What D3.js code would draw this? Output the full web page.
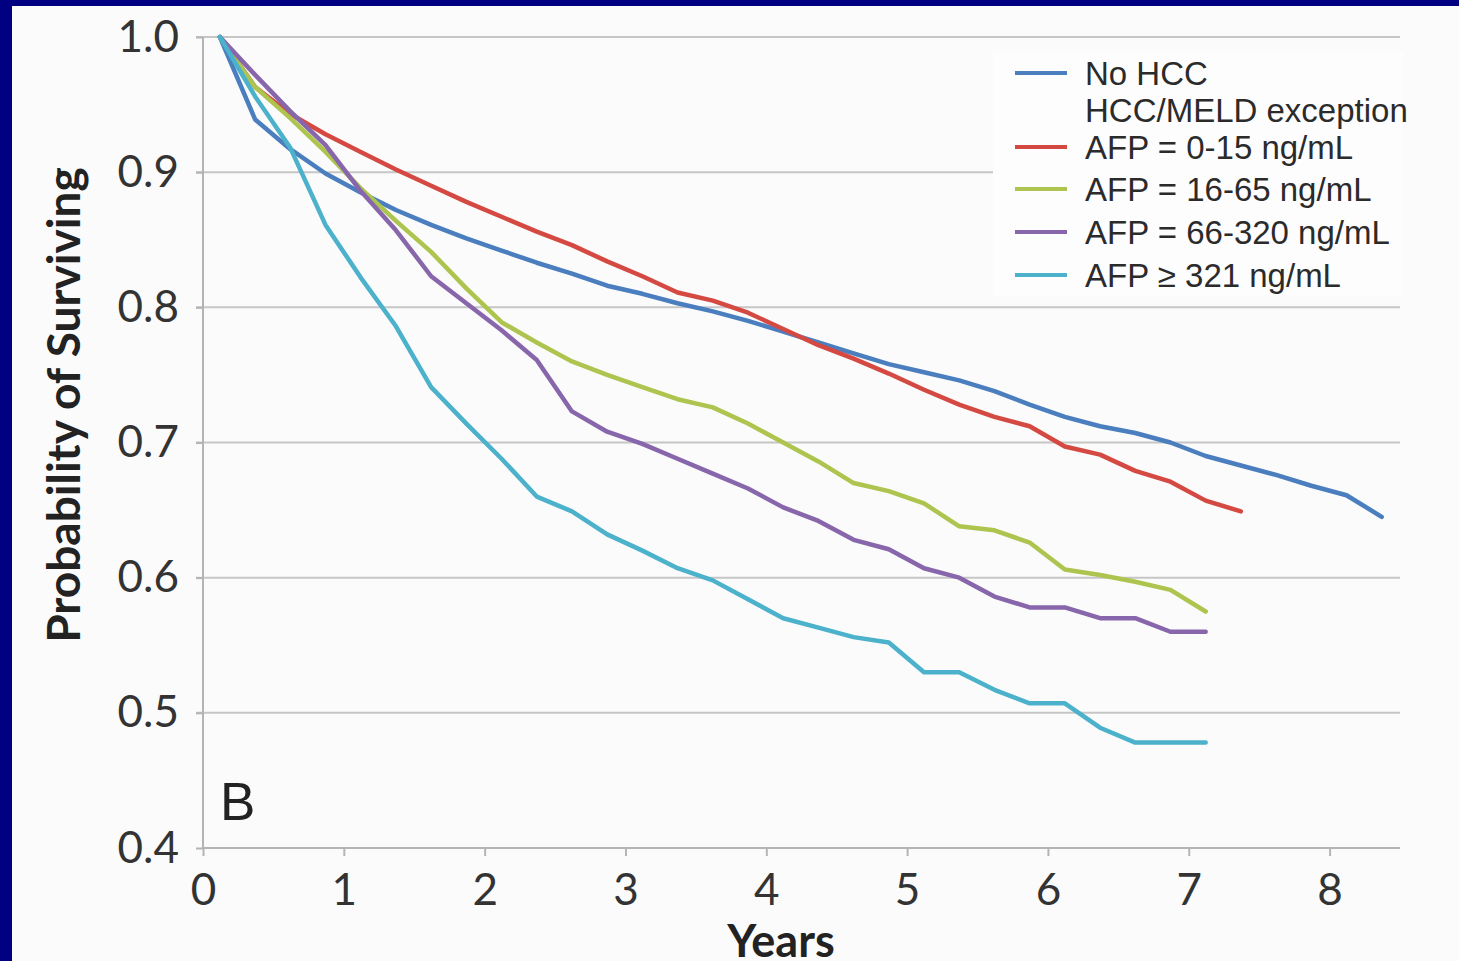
<!DOCTYPE html>
<html>
<head>
<meta charset="utf-8">
<script src="https://cdn.jsdelivr.net/npm/d3@7"></script>
<style>
  body { margin: 0; background: #000080; }
  svg { display: block; }
</style>
</head>
<body>
<script>
let w = 1459;
let h = 961;

// time points (years) shared by all curves
let years = [0.12, 0.37, 0.62, 0.87, 1.12, 1.37, 1.62, 1.87, 2.12, 2.37,
             2.62, 2.87, 3.12, 3.37, 3.62, 3.87, 4.12, 4.37, 4.62, 4.87,
             5.12, 5.37, 5.62, 5.87, 6.12, 6.37, 6.62, 6.87, 7.12, 7.37,
             7.62, 7.87, 8.12, 8.37];

let noHcc = [1.0, 0.939, 0.917, 0.899, 0.885, 0.872, 0.861, 0.851, 0.842, 0.833,
             0.825, 0.816, 0.810, 0.803, 0.797, 0.790, 0.782, 0.774, 0.766, 0.758,
             0.752, 0.746, 0.738, 0.728, 0.719, 0.712, 0.707, 0.700, 0.690, 0.683,
             0.676, 0.668, 0.661, 0.645];
let afp0to15 = [1.0, 0.963, 0.943, 0.928, 0.915, 0.902, 0.890, 0.878, 0.867, 0.856,
                0.846, 0.834, 0.823, 0.811, 0.805, 0.796, 0.784, 0.772, 0.762, 0.751,
                0.739, 0.728, 0.719, 0.712, 0.697, 0.691, 0.679, 0.671, 0.657, 0.649];
let afp16to65 = [1.0, 0.963, 0.940, 0.915, 0.888, 0.864, 0.841, 0.814, 0.789, 0.774,
                 0.760, 0.750, 0.741, 0.732, 0.726, 0.714, 0.700, 0.686, 0.670, 0.664,
                 0.655, 0.638, 0.635, 0.626, 0.606, 0.602, 0.597, 0.591, 0.575];
let afp66to320 = [1.0, 0.972, 0.945, 0.920, 0.886, 0.857, 0.823, 0.803, 0.783, 0.761,
                  0.723, 0.708, 0.699, 0.688, 0.677, 0.666, 0.652, 0.642, 0.628, 0.621,
                  0.607, 0.600, 0.586, 0.578, 0.578, 0.570, 0.570, 0.560, 0.560];
let afp321 = [1.0, 0.956, 0.918, 0.861, 0.822, 0.786, 0.741, 0.714, 0.688, 0.660,
              0.649, 0.632, 0.620, 0.607, 0.598, 0.584, 0.570, 0.563, 0.556, 0.552,
              0.530, 0.530, 0.517, 0.507, 0.507, 0.489, 0.478, 0.478, 0.478];

let seriesNames = ['No HCC', 'AFP = 0-15 ng/mL', 'AFP = 16-65 ng/mL',
                   'AFP = 66-320 ng/mL', 'AFP \u2265 321 ng/mL'];
let seriesValues = [noHcc, afp0to15, afp16to65, afp66to320, afp321];
let seriesColors = ['#4a7ebe', '#d44a43', '#adc44f', '#8866ab', '#4cb1cb'];

let yTicks = [0.4, 0.5, 0.6, 0.7, 0.8, 0.9, 1.0];
let xTicks = [0, 1, 2, 3, 4, 5, 6, 7, 8];

let plot = { left: 203, right: 1400, top: 37, bottom: 848 };

let xScale = d3.scaleLinear().domain([0, 8.5]).range([plot.left, plot.right]);
let yScale = d3.scaleLinear().domain([0.4, 1.0]).range([plot.bottom, plot.top]);

let svg = d3.select('body')
  .append('svg')
  .attr('width', w)
  .attr('height', h);

// light panel over the navy slide background
svg.append('rect')
  .attr('x', 12)
  .attr('y', 6)
  .attr('width', w - 12)
  .attr('height', h - 6)
  .attr('fill', '#fbfbfb');

// gridlines
svg.append('g')
  .selectAll('line')
  .data(yTicks.filter((d) => { return d > 0.4; }))
  .enter()
  .append('line')
  .attr('x1', plot.left - 7)
  .attr('x2', plot.right)
  .attr('y1', (d) => { return yScale(d); })
  .attr('y2', (d) => { return yScale(d); })
  .attr('stroke', '#c6c6c6')
  .attr('stroke-width', 2);

// y axis
let yAxis = svg.append('g')
  .attr('transform', `translate(${plot.left},0)`)
  .call(d3.axisLeft(yScale).tickValues(yTicks).tickFormat(d3.format('.1f')).tickSize(7).tickPadding(17));

// x axis
let xAxis = svg.append('g')
  .attr('transform', `translate(0,${plot.bottom})`)
  .call(d3.axisBottom(xScale).tickValues(xTicks).tickSize(8).tickPadding(18));

[yAxis, xAxis].forEach((ax) => {
  ax.select('.domain').attr('stroke', '#b4b4b4').attr('stroke-width', 2);
  ax.selectAll('.tick line').attr('stroke', '#b4b4b4').attr('stroke-width', 2);
  ax.selectAll('.tick text')
    .attr('font-family', 'Lato, "Open Sans", sans-serif')
    .attr('font-size', '44px')
    .attr('fill', '#333');
});
xAxis.select('.domain').attr('d', `M${plot.left},0H${plot.right}`);
yAxis.select('.domain').attr('d', `M0,${plot.top}V${plot.bottom}`);

// legend box hides the 0.9 gridline behind it
svg.append('rect')
  .attr('x', 993)
  .attr('y', 52)
  .attr('width', 410)
  .attr('height', 244)
  .attr('fill', '#fdfdfd');

// survival curves
let line = d3.line()
  .x((d) => { return xScale(d[0]); })
  .y((d) => { return yScale(d[1]); });

svg.append('g')
  .selectAll('path')
  .data(seriesValues)
  .enter()
  .append('path')
  .attr('d', (vals) => { return line(vals.map((v, i) => { return [years[i], v]; })); })
  .attr('fill', 'none')
  .attr('stroke', (d, i) => { return seriesColors[i]; })
  .attr('stroke-width', 4.5)
  .attr('stroke-linejoin', 'round')
  .attr('stroke-linecap', 'round');

// legend
let legendY = [73, 147, 189, 232, 275];
let legend = svg.append('g')
  .attr('font-family', '"Liberation Sans", Arial, sans-serif')
  .attr('font-size', '33px')
  .attr('fill', '#2b2b2b');

let rows = legend.selectAll('g')
  .data(seriesNames)
  .enter()
  .append('g')
  .attr('transform', (d, i) => { return `translate(1015,${legendY[i]})`; });

rows.append('line')
  .attr('x1', 0)
  .attr('x2', 52)
  .attr('stroke', (d, i) => { return seriesColors[i]; })
  .attr('stroke-width', 4);

rows.append('text')
  .attr('x', 70)
  .attr('dy', '0.36em')
  .text((d) => { return d; });

legend.append('text')
  .attr('x', 1085)
  .attr('y', 110)
  .attr('dy', '0.36em')
  .text('HCC/MELD exception');

// axis titles
svg.append('text')
  .attr('x', 781)
  .attr('y', 957)
  .attr('text-anchor', 'middle')
  .attr('font-family', 'Lato, "Open Sans", sans-serif')
  .attr('font-weight', 'bold')
  .attr('font-size', '45px')
  .attr('fill', '#222')
  .text('Years');

svg.append('text')
  .attr('transform', 'translate(80,405) rotate(-90)')
  .attr('text-anchor', 'middle')
  .attr('font-family', 'Lato, "Open Sans", sans-serif')
  .attr('font-weight', 'bold')
  .attr('font-size', '46px')
  .attr('fill', '#222')
  .text('Probability of Surviving');

// panel letter
svg.append('text')
  .attr('x', 220)
  .attr('y', 820)
  .attr('font-family', '"Liberation Sans", Arial, sans-serif')
  .attr('font-size', '53px')
  .attr('fill', '#222')
  .text('B');
</script>
</body>
</html>
